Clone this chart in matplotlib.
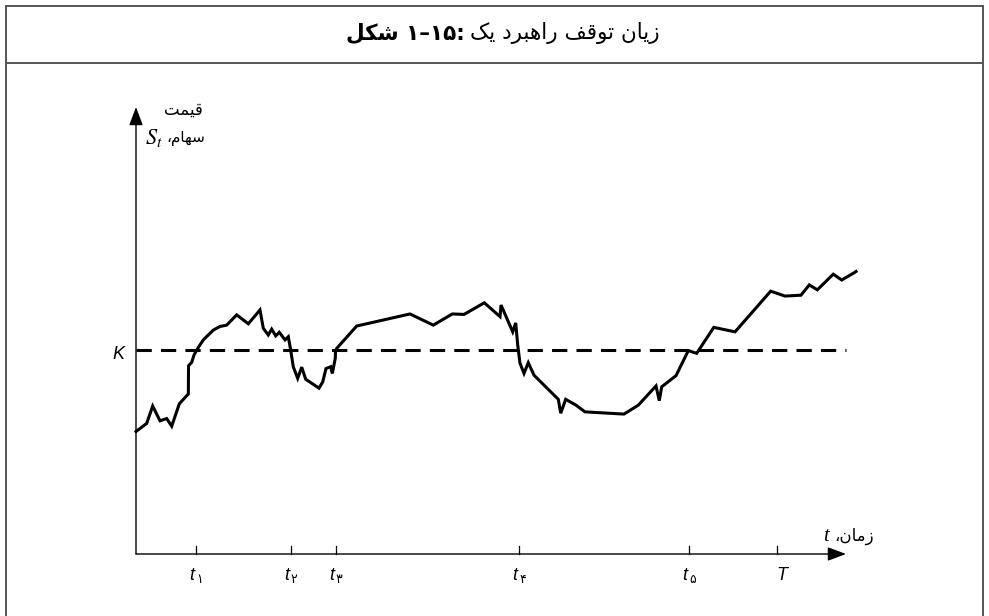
import matplotlib
matplotlib.use("Agg")
import matplotlib.pyplot as plt
from matplotlib import font_manager, ft2font
from matplotlib.lines import Line2D

# ---- data (time in arbitrary units 0..100, price in arbitrary units) ----
times = [0.0, 1.5, 2.35, 3.38, 4.32, 5.03, 6.10, 7.37, 7.40, 7.85, 8.17, 8.77,
         9.48, 10.89, 11.83, 12.77, 14.18, 15.82, 17.46, 17.93, 18.63, 19.11,
         19.68, 20.18, 20.99, 21.45, 21.79, 22.15, 22.77, 23.34, 23.90, 25.77,
         26.30, 26.76, 27.42, 27.65, 28.07, 28.10, 28.27, 31.08, 38.59, 41.87,
         44.55, 46.20, 49.06, 51.27, 51.41, 53.06, 53.48, 53.76, 54.08, 54.65,
         55.25, 56.06, 59.48, 59.82, 60.52, 61.97, 63.24, 68.73, 70.75, 73.24,
         73.70, 74.04, 76.06, 77.79, 78.97, 81.38, 84.37, 89.39, 91.41, 93.66,
         94.83, 95.96, 98.21, 99.39, 101.03, 101.41]
prices = [27.4, 29.2, 33.1, 29.8, 30.3, 28.6, 33.6, 35.8, 42.1, 42.9, 44.5, 46.2,
          47.9, 50.1, 50.9, 51.2, 53.5, 51.5, 54.6, 50.5, 49.0, 50.3,
          48.8, 49.6, 47.9, 48.6, 45.6, 41.9, 39.3, 41.8, 39.1, 37.1,
          38.5, 41.5, 41.9, 40.4, 43.8, 45.3, 46.0, 51.0, 53.7, 51.2,
          53.7, 53.6, 56.2, 53.1, 55.7, 49.7, 51.7, 46.8, 42.7, 40.4,
          42.8, 40.0, 34.6, 31.5, 34.6, 33.3, 31.8, 31.3, 33.3, 37.6,
          34.3, 37.4, 39.9, 45.5, 44.9, 50.7, 49.7, 58.8, 57.7, 57.9,
          60.2, 59.1, 62.6, 61.3, 62.8, 63.2]
strike = 45.6
tick_times = [8.4, 21.8, 28.1, 54.0, 77.9, 90.3]
tick_subs = ["\u06F1", "\u06F2", "\u06F3", "\u06F4", "\u06F5", ""]

title_bold = "شکل"
title_num = "\u06F1\u2013\u06F1\u06F5:"
title_words = ["یک", "راهبرد", "توقف", "زیان"]
ylabel_1 = "قیمت"
ylabel_2 = "سهام،"
xlabel = "زمان،"

# ---- minimal Persian shaping (matplotlib does not shape Arabic script) ----
dv = ft2font.FT2Font(font_manager.findfont("DejaVu Sans"))
has_fa = dv.get_char_index(0xFB8E) != 0 and dv.get_char_index(0xFBFC) != 0
KEHEH = ("\uFB8E", "\uFB8F", "\uFB90", "\uFB91") if has_fa else ("\uFED9", "\uFEDA", "\uFEDB", "\uFEDC")
FYEH = ("\uFBFC", "\uFBFD", "\uFBFE", "\uFBFF") if has_fa else ("\uFEEF", "\uFEF0", "\uFEF3", "\uFEF4")
FORMS = {
    "\u0627": ("\uFE8D", "\uFE8E", None, None),
    "\u0628": ("\uFE8F", "\uFE90", "\uFE91", "\uFE92"),
    "\u062A": ("\uFE95", "\uFE96", "\uFE97", "\uFE98"),
    "\u062F": ("\uFEA9", "\uFEAA", None, None),
    "\u0631": ("\uFEAD", "\uFEAE", None, None),
    "\u0632": ("\uFEAF", "\uFEB0", None, None),
    "\u0633": ("\uFEB1", "\uFEB2", "\uFEB3", "\uFEB4"),
    "\u0634": ("\uFEB5", "\uFEB6", "\uFEB7", "\uFEB8"),
    "\u0641": ("\uFED1", "\uFED2", "\uFED3", "\uFED4"),
    "\u0642": ("\uFED5", "\uFED6", "\uFED7", "\uFED8"),
    "\u0644": ("\uFEDD", "\uFEDE", "\uFEDF", "\uFEE0"),
    "\u0645": ("\uFEE1", "\uFEE2", "\uFEE3", "\uFEE4"),
    "\u0646": ("\uFEE5", "\uFEE6", "\uFEE7", "\uFEE8"),
    "\u0647": ("\uFEE9", "\uFEEA", "\uFEEB", "\uFEEC"),
    "\u0648": ("\uFEED", "\uFEEE", None, None),
    "\u06A9": KEHEH, "\u0643": KEHEH,
    "\u06CC": FYEH, "\u064A": FYEH,
}


def shape(word):
    out = []
    for i, c in enumerate(word):
        if c not in FORMS:
            out.append(c)
            continue
        prev = word[i - 1] if i > 0 else None
        nxt = word[i + 1] if i + 1 < len(word) else None
        jp = prev in FORMS and FORMS[prev][2] is not None
        jn = nxt in FORMS and FORMS[c][2] is not None
        f = FORMS[c]
        out.append(f[3] if jp and jn else f[1] if jp else f[2] if jn else f[0])
    return "".join(out)[::-1]


plt.rcParams["font.family"] = ["DejaVu Sans"]
plt.rcParams["mathtext.fontset"] = "stix"

fig = plt.figure(figsize=(9.89, 6.16), dpi=100)
ax = fig.add_axes([0, 0, 1, 1])
ax.axis("off")
ax.set_xlim(-19.155, 120.141)
ax.set_ylim(-13.870, 123.937)

# frame and title bar
frame_kw = dict(color="#555555", lw=1.4, transform=fig.transFigure)
fig.add_artist(Line2D([0.006, 0.006], [0, 0.99], **frame_kw))
fig.add_artist(Line2D([0.994, 0.994], [0, 0.99], **frame_kw))
fig.add_artist(Line2D([0.006, 0.994], [0.99, 0.99], **frame_kw))
fig.add_artist(Line2D([0.006, 0.994], [1 - 63 / 616, 1 - 63 / 616], **frame_kw))

tb = fig.text(346 / 989, 1 - 33 / 616, shape(title_bold) + " " + title_num,
              ha="left", va="center", fontsize=15.5, weight="bold")
ax.annotate(" ".join(shape(w) for w in title_words), xy=(1, 0.5), xycoords=tb,
            xytext=(4, 0), textcoords="offset points", ha="left", va="center",
            fontsize=15.5)

# axes with arrows
arrow = dict(arrowstyle="-|>,head_length=0.8,head_width=0.3", color="black",
             lw=1.0, shrinkA=0, shrinkB=0, mutation_scale=14)
ax.annotate("", xy=(100, 0), xytext=(0, 0), arrowprops=arrow)
ax.annotate("", xy=(0, 100), xytext=(0, 0), arrowprops=arrow)

# strike level and price path
ax.plot([0, 100], [strike, strike], color="black", lw=2.2, ls=(0, (5, 3)))
ax.plot(times, prices, color="black", lw=2.2, solid_joinstyle="miter")

# ticks and labels
for tt, sub in zip(tick_times, tick_subs):
    ax.plot([tt, tt], [0, 1.8], color="black", lw=0.9)
    if sub:
        ax.text(tt - 0.6, -4.7, "t", ha="center", va="center", fontsize=13,
                family="Liberation Sans", style="italic")
        ax.text(tt + 0.5, -5.8, sub, ha="center", va="center", fontsize=9)
    else:
        ax.text(tt + 0.6, -4.7, "T", ha="center", va="center", fontsize=13,
                family="Liberation Sans", style="italic")

ax.text(-1.6, strike - 1.0, "K", ha="right", va="center", fontsize=13,
        family="Liberation Sans", style="italic")

ax.text(9.4, 99.5, shape(ylabel_1), ha="right", va="center", fontsize=12)
yl2 = ax.text(9.8, 93.0, shape(ylabel_2), ha="right", va="center", fontsize=11)
ax.annotate(r"$S_t$", xy=(0, 0.5), xycoords=yl2, xytext=(-3, 0),
            textcoords="offset points", ha="right", va="center", fontsize=16)

xl = ax.text(103.9, 4.0, shape(xlabel), ha="right", va="center", fontsize=12)
ax.annotate("t", xy=(0, 0.5), xycoords=xl, xytext=(-4, 0),
            textcoords="offset points", ha="right", va="center", fontsize=15,
            family="Liberation Serif", style="italic")

fig.savefig("out.png", dpi=100)
